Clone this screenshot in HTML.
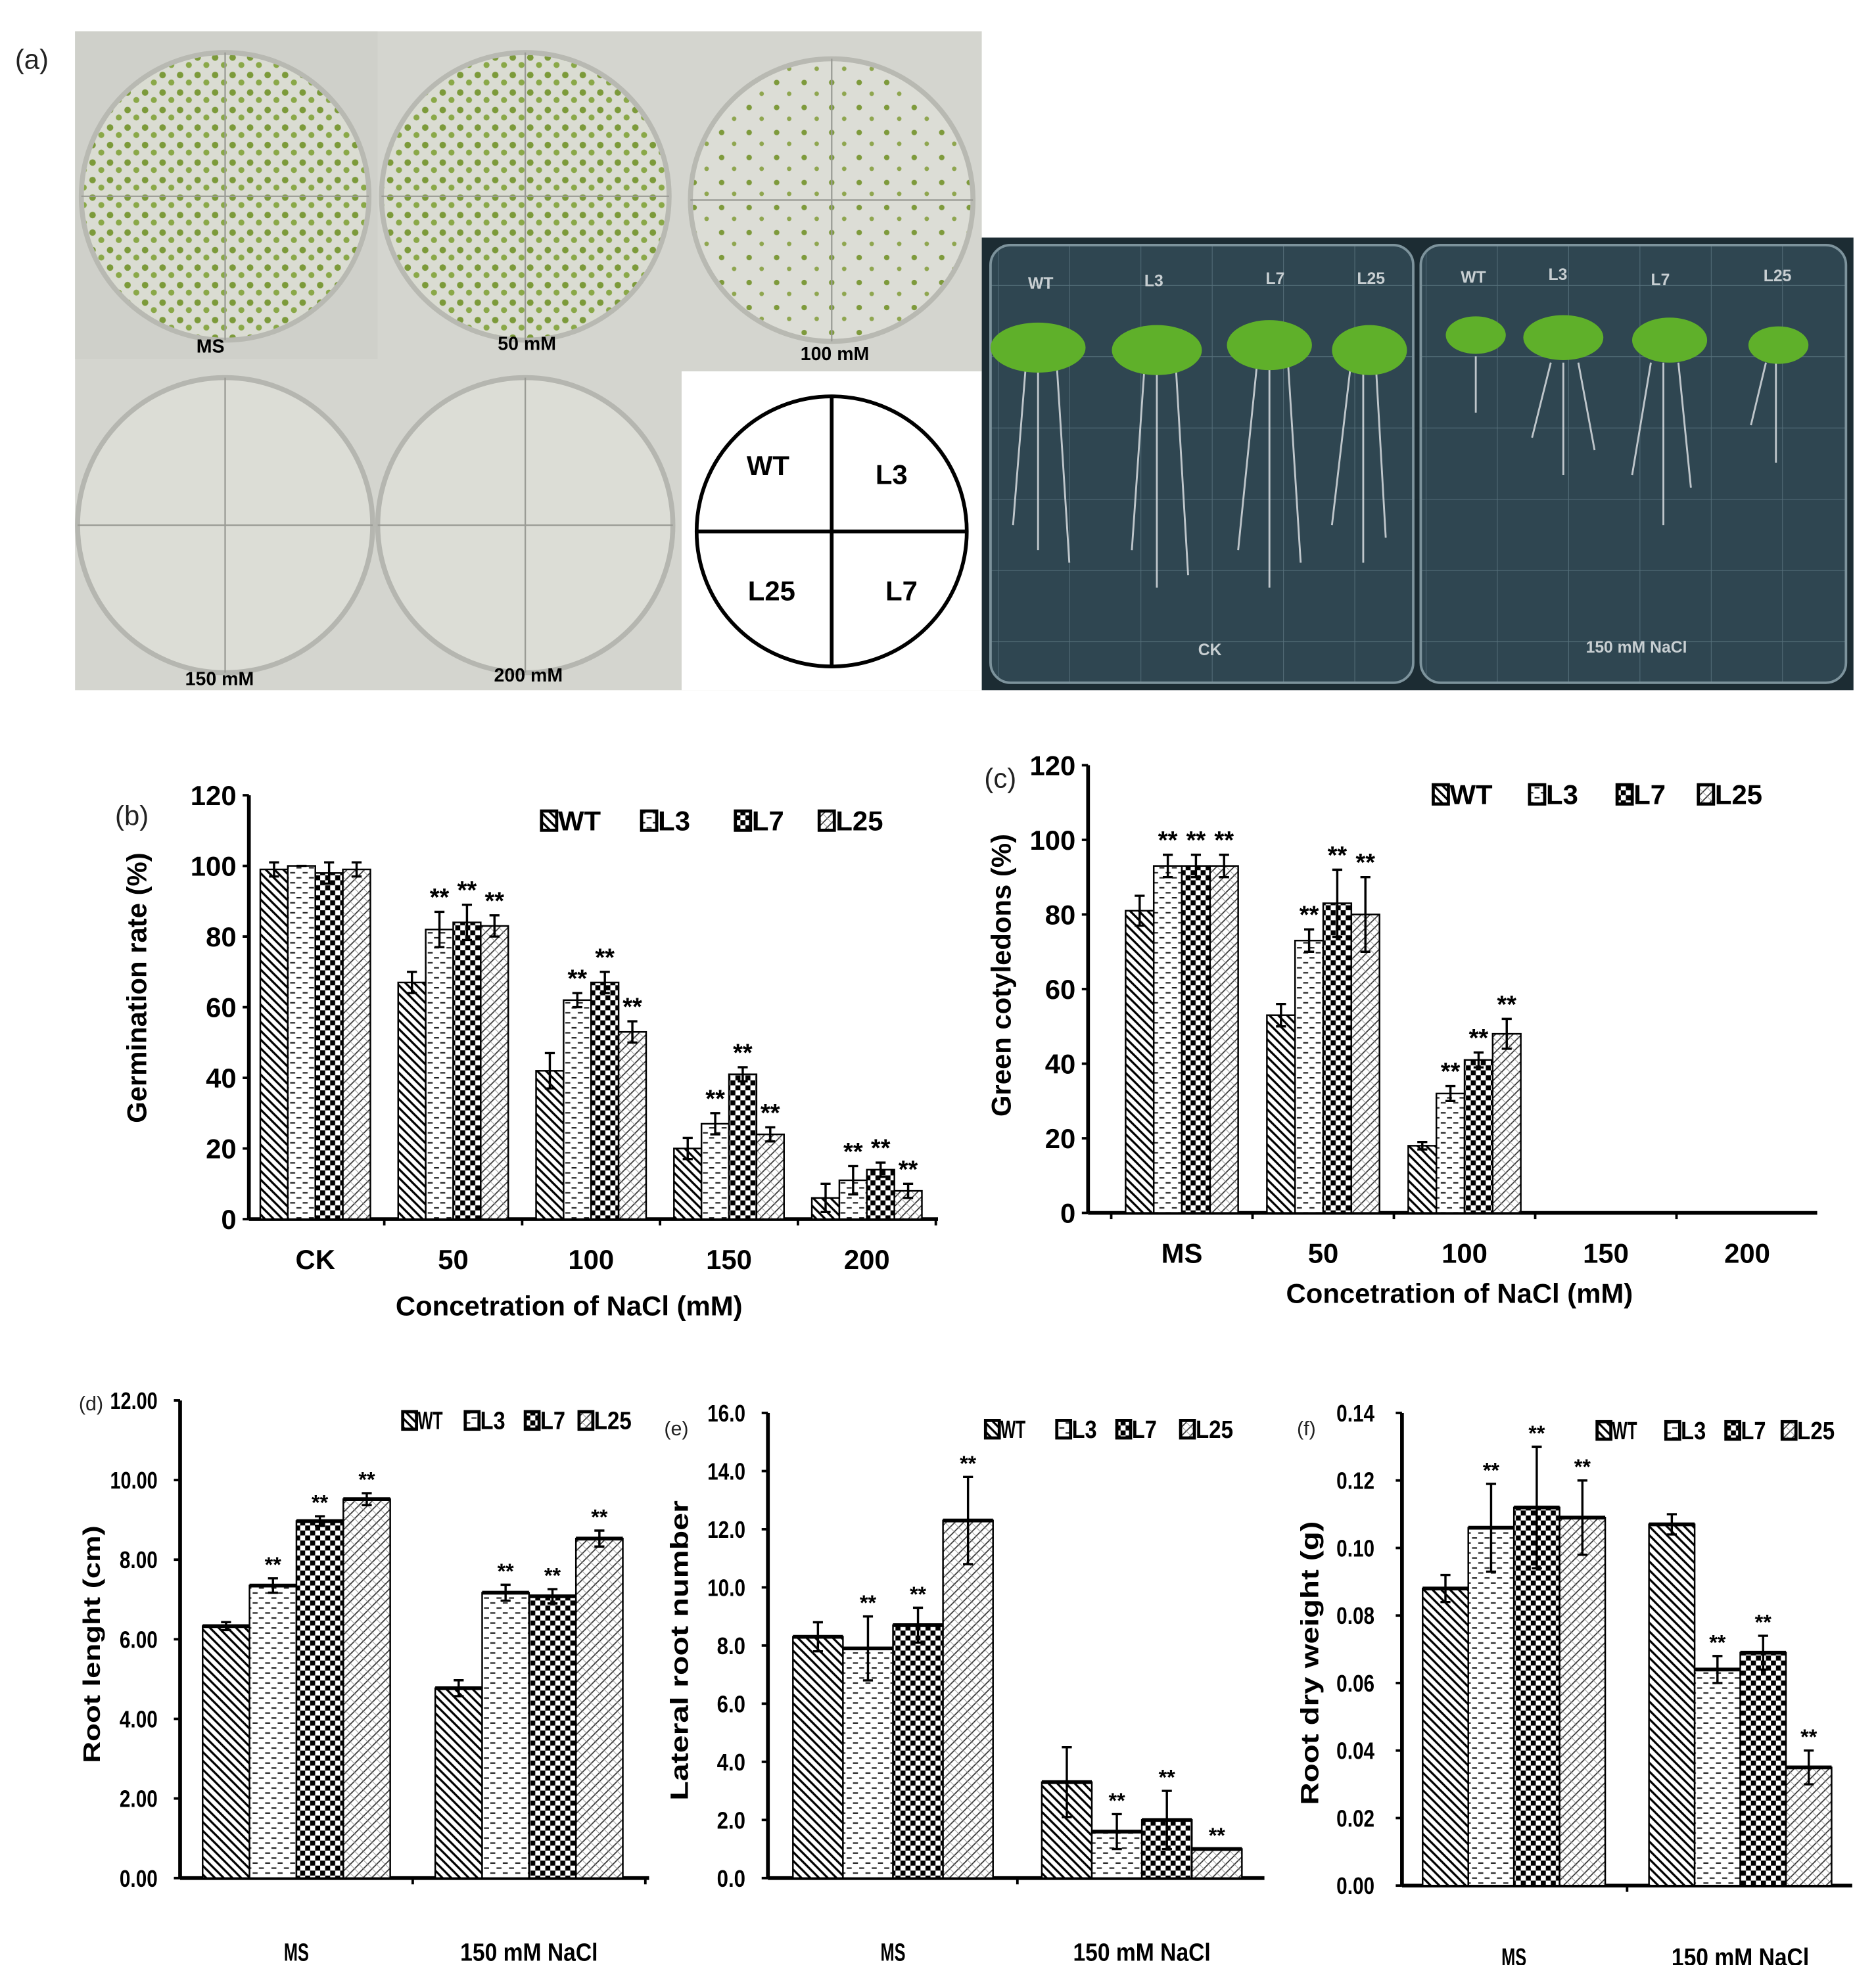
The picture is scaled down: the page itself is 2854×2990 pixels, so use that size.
<!DOCTYPE html>
<html><head><meta charset="utf-8"><style>
html,body{margin:0;padding:0;background:#fff;}
svg{display:block;}
text{font-family:"Liberation Sans",Arial,sans-serif;}
.t{font-weight:bold;fill:#000;}
.n{font-family:"Liberation Sans Narrow","Liberation Sans",sans-serif;font-weight:bold;}
</style></head><body>
<svg id="fig" width="2854" height="2990" viewBox="0 0 1500 1571.5" xmlns="http://www.w3.org/2000/svg">
<defs>
<pattern id="pWT" width="7" height="7" patternUnits="userSpaceOnUse"><rect width="7" height="7" fill="#fff"/><path d="M-1,-1 L8,8 M-1,6 L1,8 M6,-1 L8,1" stroke="#000" stroke-width="1.7"/></pattern>
<pattern id="pL3" width="10" height="8" patternUnits="userSpaceOnUse"><rect width="10" height="8" fill="#fff"/><path d="M2,2 H6 M7,6 H10 M0,6 H1" stroke="#222" stroke-width="1.2"/></pattern>
<pattern id="pL7" width="8" height="8" patternUnits="userSpaceOnUse"><rect width="8" height="8" fill="#fff"/><rect width="4" height="4" fill="#000"/><rect x="4" y="4" width="4" height="4" fill="#000"/></pattern>
<pattern id="pL25" width="7" height="7" patternUnits="userSpaceOnUse"><rect width="7" height="7" fill="#fff"/><path d="M-1,8 L8,-1 M-1,1 L1,-1 M6,8 L8,6" stroke="#333" stroke-width="0.9"/><path d="M0,0 L7,7" stroke="#999" stroke-width="0.5"/></pattern>
<pattern id="seedDense" width="14" height="14" patternUnits="userSpaceOnUse"><rect width="14" height="14" fill="#dadcd2"/><circle cx="4" cy="4" r="2.6" fill="#7c9a3a"/><circle cx="11" cy="10" r="2.4" fill="#8aa848"/></pattern>
<pattern id="seedSparse" width="22" height="20" patternUnits="userSpaceOnUse"><rect width="22" height="20" fill="#dcddd6"/><circle cx="5" cy="6" r="2.2" fill="#7e9a3c"/><circle cx="15" cy="15" r="1.8" fill="#8fa650"/></pattern>
<pattern id="grid" width="57" height="57" patternUnits="userSpaceOnUse"><rect width="57" height="57" fill="#2f4651"/><path d="M0,0 H57 M0,0 V57" stroke="#56707b" stroke-width="1"/></pattern>
</defs>

<!-- panel a -->
<g>
<text x="12" y="55" font-size="22" fill="#222">(a)</text>
<rect x="60" y="25" width="725" height="527" fill="#d4d5cf"/>
<rect x="60" y="25" width="242" height="262" fill="#cfd0ca"/>
<circle cx="180" cy="157" r="115" fill="url(#seedDense)" stroke="#b8b9b2" stroke-width="4"/>
<circle cx="420" cy="157" r="115" fill="url(#seedDense)" stroke="#b8b9b2" stroke-width="4"/>
<circle cx="665" cy="160" r="113" fill="url(#seedSparse)" stroke="#b8b9b2" stroke-width="4"/>
<circle cx="180" cy="420" r="118" fill="#dcddd6" stroke="#b5b6b0" stroke-width="4"/>
<circle cx="420" cy="420" r="118" fill="#dcddd6" stroke="#b5b6b0" stroke-width="4"/>
<path d="M65,157 H295 M180,42 V272 M305,157 H535 M420,42 V272 M552,160 H778 M665,47 V273 M62,420 H298 M180,302 V538 M302,420 H538 M420,302 V538" stroke="#9a9b95" stroke-width="1.2"/>
<g class="t" font-size="15">
<text x="157" y="282" font-family="Liberation Serif,serif">MS</text>
<text x="398" y="280" font-family="Liberation Serif,serif">50 mM</text>
<text x="640" y="288" font-family="Liberation Serif,serif">100 mM</text>
<text x="148" y="548" font-family="Liberation Serif,serif">150 mM</text>
<text x="395" y="545" font-family="Liberation Serif,serif">200 mM</text>
</g>
<rect x="545" y="297" width="240" height="255" fill="#fff"/>
<g>
<circle cx="665" cy="425" r="108" fill="none" stroke="#000" stroke-width="3"/>
<path d="M557,425 H773 M665,317 V533" stroke="#000" stroke-width="3"/>
<g font-size="22" font-weight="bold">
<text x="597" y="380" font-family="Liberation Serif,serif">WT</text>
<text x="700" y="387" font-family="Liberation Serif,serif">L3</text>
<text x="598" y="480" font-family="Liberation Serif,serif">L25</text>
<text x="708" y="480" font-family="Liberation Serif,serif">L7</text>
</g></g>
<rect x="785" y="190" width="697" height="362" fill="#1c2c33"/>
<rect x="792" y="196" width="338" height="350" rx="16" fill="url(#grid)" stroke="#7d939c" stroke-width="2"/>
<rect x="1136" y="196" width="340" height="350" rx="16" fill="url(#grid)" stroke="#7d939c" stroke-width="2"/>
<g stroke="#d8dde0" stroke-width="1.5" fill="none" opacity="0.85">
<path d="M830,290 V440 M820,295 L810,420 M845,292 L855,450 M925,295 V470 M915,295 L905,440 M940,290 L950,460 M1015,290 V470 M1005,292 L990,440 M1030,292 L1040,450 M1090,292 V450 M1080,292 L1065,420 M1100,290 L1108,430"/>
<path d="M1180,285 V330 M1250,290 V380 M1240,290 L1225,350 M1262,290 L1275,360 M1330,290 V420 M1320,290 L1305,380 M1342,290 L1352,390 M1420,290 V370 M1412,290 L1400,340"/>
</g>
<g fill="#5fb02a">
<ellipse cx="830" cy="278" rx="38" ry="20"/><ellipse cx="925" cy="280" rx="36" ry="20"/><ellipse cx="1015" cy="276" rx="34" ry="20"/><ellipse cx="1095" cy="280" rx="30" ry="20"/>
<ellipse cx="1180" cy="268" rx="24" ry="15"/><ellipse cx="1250" cy="270" rx="32" ry="18"/><ellipse cx="1335" cy="272" rx="30" ry="18"/><ellipse cx="1422" cy="276" rx="24" ry="15"/>
</g>
<g font-size="13" fill="#c8cfd2" font-weight="bold">
<text x="822" y="231" font-family="Liberation Serif,serif">WT</text><text x="915" y="229" font-family="Liberation Serif,serif">L3</text><text x="1012" y="227" font-family="Liberation Serif,serif">L7</text><text x="1085" y="227" font-family="Liberation Serif,serif">L25</text>
<text x="1168" y="226" font-family="Liberation Serif,serif">WT</text><text x="1238" y="224" font-family="Liberation Serif,serif">L3</text><text x="1320" y="228" font-family="Liberation Serif,serif">L7</text><text x="1410" y="225" font-family="Liberation Serif,serif">L25</text>
<text x="958" y="524" font-family="Liberation Serif,serif">CK</text><text x="1268" y="522" font-family="Liberation Serif,serif">150 mM NaCl</text>
</g>
</g>
<g id="charts"></g>
</svg>
<script>
// ---- chart b data ----
const bCategories = ["CK","50","100","150","200"];
const bWT  = [99, 67, 42, 20, 6];
const bL3  = [100, 82, 62, 27, 11];
const bL7  = [98, 84, 67, 41, 14];
const bL25 = [99, 83, 53, 24, 8];
const bErrWT  = [2, 3, 5, 3, 4];
const bErrL3  = [0, 5, 2, 3, 4];
const bErrL7  = [3, 5, 3, 2, 2];
const bErrL25 = [2, 3, 3, 2, 2];
const bTicks = ["0","20","40","60","80","100","120"];
// ---- chart c data ----
const cCategories = ["MS","50","100","150","200"];
const cWT  = [81, 53, 18, 0, 0];
const cL3  = [93, 73, 32, 0, 0];
const cL7  = [93, 83, 41, 0, 0];
const cL25 = [93, 80, 48, 0, 0];
const cErrWT  = [4, 3, 1, 0, 0];
const cErrL3  = [3, 3, 2, 0, 0];
const cErrL7  = [3, 9, 2, 0, 0];
const cErrL25 = [3, 10, 4, 0, 0];
const cTicks = ["0","20","40","60","80","100","120"];
// ---- chart d data ----
const dCategories = ["MS","150 mM NaCl"];
const dWT  = [6.33, 4.77];
const dL3  = [7.35, 7.17];
const dL7  = [8.97, 7.08];
const dL25 = [9.52, 8.53];
const dErrWT  = [0.1, 0.2];
const dErrL3  = [0.18, 0.2];
const dErrL7  = [0.12, 0.18];
const dErrL25 = [0.15, 0.2];
const dTicks = ["0.00","2.00","4.00","6.00","8.00","10.00","12.00"];
// ---- chart e data ----
const eCategories = ["MS","150 mM NaCl"];
const eWT  = [8.3, 3.3];
const eL3  = [7.9, 1.6];
const eL7  = [8.7, 2.0];
const eL25 = [12.3, 1.0];
const eErrWT  = [0.5, 1.2];
const eErrL3  = [1.1, 0.6];
const eErrL7  = [0.6, 1.0];
const eErrL25 = [1.5, 0];
const eTicks = ["0.0","2.0","4.0","6.0","8.0","10.0","12.0","14.0","16.0"];
// ---- chart f data ----
const fCategories = ["MS","150 mM NaCl"];
const fWT  = [0.088, 0.107];
const fL3  = [0.106, 0.064];
const fL7  = [0.112, 0.069];
const fL25 = [0.109, 0.035];
const fErrWT  = [0.004, 0.003];
const fErrL3  = [0.013, 0.004];
const fErrL7  = [0.018, 0.005];
const fErrL25 = [0.011, 0.005];
const fTicks = ["0.00","0.02","0.04","0.06","0.08","0.10","0.12","0.14"];
const seriesNames = ["WT","L3","L7","L25"];

const NS = "http://www.w3.org/2000/svg";
const root = document.getElementById("charts");
function mk(tag, attrs, parent) {
  const e = document.createElementNS(NS, tag);
  for (const k in attrs) e.setAttribute(k, attrs[k]);
  (parent || root).appendChild(e);
  return e;
}
function txt(s, attrs, parent, len) {
  const e = mk("text", attrs, parent);
  e.textContent = s;
  if (len) { e.setAttribute("textLength", len); e.setAttribute("lengthAdjust", "spacingAndGlyphs"); }
  return e;
}

function chart(o) {
  const g = mk("g", {});
  
  
  const yMax = o.yMax;
  const ys = v => o.y0 - (v / yMax) * (o.y0 - o.yTop);
  const gw = o.spacing;
  const cx = i => o.xStart + (i + 0.5) * gw;
  const cls = o.narrow ? "n" : "t";
  const nl = (s, per) => o.narrow ? s.length * per : 0;
  const ya = mk("line", {x1:o.x0, y1:o.yTop, x2:o.x0, y2:o.y0, stroke:"#000", "stroke-width":3}, g);
  
  
  const xa = mk("line", {x1:o.x0, y1:o.y0, x2:o.xEnd, y2:o.y0, stroke:"#000", "stroke-width":3}, g);
  
  
  o.ticks.forEach((t, i) => {
    const v = i * yMax / (o.ticks.length - 1);
    const y = ys(v);
    mk("line", {x1:o.x0 - 5, y1:y, x2:o.x0, y2:y, stroke:"#000", "stroke-width":2}, g);
    const tl = txt(t, {x:o.x0 - (o.narrow ? o.tickGap : 10) - nl(t, 7.6), y:y + o.tickFs * 0.36, "font-size":o.tickFs, class:cls, fill:"#000", "text-anchor":o.narrow ? "start" : "end"}, g, nl(t, 7.6));
    if (!o.narrow) tl.setAttribute("x", o.x0 - 10);
    
    
  });
  for (let i = 0; i <= o.cats.length; i++) {
    const x = o.xStart + i * gw;
    if (x > o.x0 + 2 && x < o.xEnd) mk("line", {x1:x, y1:o.y0, x2:x, y2:o.y0 + 5, stroke:"#000", "stroke-width":2}, g);
  }
  o.cats.forEach((c, i) => {
    const L = nl(c, 10);
    const l = txt(c, {x:cx(i) - L / 2, y:o.catY, "font-size":o.catFs, class:cls, "text-anchor":o.narrow ? "start" : "middle"}, g, L);
    if (!o.narrow) l.setAttribute("x", cx(i));
    
    
  });
  const bw = o.barW;
  o.series.forEach((vals, s) => {
    vals.forEach((v, i) => {
      if (v <= 0) return;
      const x = cx(i) - 2 * bw + s * bw;
      const y = ys(v);
      const r = mk("rect", {x:x, y:y, width:bw, height:o.y0 - y, fill:"url(#p" + seriesNames[s] + ")", stroke:"#000", "stroke-width":1.3}, g);
      
      
      if (o.narrow) mk("line", {x1:x, y1:y, x2:x + bw, y2:y, stroke:"#000", "stroke-width":3}, g);
      const e = o.errs[s][i];
      const et = ys(v + e), eb = ys(v - e);
      const eg = mk("path", {d:`M${x+bw/2},${et} V${eb} M${x+bw/2-4},${et} H${x+bw/2+4} M${x+bw/2-4},${eb} H${x+bw/2+4}`, stroke:"#000", "stroke-width":1.8, fill:"none"}, g);
      
      
      if (o.stars[s][i]) {
        const st = txt("**", {x:x + bw/2, y:et - 5, "text-anchor":"middle", "font-size":o.starFs, class:cls}, g);
        
        
      }
    });
  });
  o.legX.forEach((lx, s) => {
    const sq = mk("rect", {x:lx, y:o.legY - o.legFs * 0.7, width:o.legFs * 0.55, height:o.legFs * 0.7, fill:"url(#p" + seriesNames[s] + ")", stroke:"#000", "stroke-width":2.5}, g);
    
    
    const nm = seriesNames[s];
    const lt = txt(nm, {x:lx + o.legFs * 0.6, y:o.legY, "font-size":o.legFs, class:cls}, g, nl(nm, 10));
    
    
  });
  const yt = txt(o.ytitle, {x:0, y:0, transform:`translate(${o.ytX},${o.ytY}) rotate(-90)`, "text-anchor":"middle", "font-size":o.titleFs, class:"t"}, g, o.ytLen || 0);
  
  
  if (o.xtitle) {
    const xt = txt(o.xtitle, {x:o.xtX, y:o.xtY, "text-anchor":"middle", "font-size":o.titleFs, class:cls}, g);
    
    
  }
  const pl = txt(o.label, {x:o.labelX, y:o.labelY, "font-size":o.labelFs, fill:"#222"}, g);
  
  
}

chart({name:"chart-b-germination", x0:199, xEnd:750, y0:975, yTop:636, yMax:120, xStart:197, spacing:110.25, barW:22,
  cats:bCategories, series:[bWT,bL3,bL7,bL25], errs:[bErrWT,bErrL3,bErrL7,bErrL25],
  stars:[[0,0,0,0,0],[0,1,1,1,1],[0,1,1,1,1],[0,1,1,1,1]], ticks:bTicks, tickFs:22, catFs:22, catY:1015, starFs:20,
  legX:[433,513,588,655], legY:664, legFs:22, ytitle:"Germination rate (%)", ytX:117, ytY:790, titleFs:22,
  xtitle:"Concetration of NaCl (mM)", xtX:455, xtY:1052, label:"(b)", labelX:92, labelY:660, labelFs:22});
chart({name:"chart-c-green-cotyledons", x0:870, xEnd:1453, y0:970, yTop:612, yMax:120, xStart:888.5, spacing:113, barW:22.5,
  cats:cCategories, series:[cWT,cL3,cL7,cL25], errs:[cErrWT,cErrL3,cErrL7,cErrL25],
  stars:[[0,0,0,0,0],[1,1,1,0,0],[1,1,1,0,0],[1,1,1,0,0]], ticks:cTicks, tickFs:22, catFs:22, catY:1010, starFs:20,
  legX:[1146,1223,1293,1358], legY:643, legFs:22, ytitle:"Green cotyledons (%)", ytX:808, ytY:780, titleFs:22,
  xtitle:"Concetration of NaCl (mM)", xtX:1167, xtY:1042, label:"(c)", labelX:787, labelY:630, labelFs:22});
chart({name:"chart-d-root-length", narrow:true, tickGap:18, x0:144, xEnd:519, y0:1502, yTop:1120, yMax:12, xStart:144, spacing:186, barW:37.5,
  cats:dCategories, series:[dWT,dL3,dL7,dL25], errs:[dErrWT,dErrL3,dErrL7,dErrL25],
  stars:[[0,0],[1,1],[1,1],[1,1]], ticks:dTicks, tickFs:19, catFs:20, catY:1568, starFs:17,
  legX:[322,372,420,463], legY:1143, legFs:20, ytitle:"Root lenght (cm)", ytX:80, ytY:1315, ytLen:190, titleFs:19,
  label:"(d)", labelX:63, labelY:1128, labelFs:16});
chart({name:"chart-e-lateral-roots", narrow:true, tickGap:18, x0:614, xEnd:1011, y0:1502, yTop:1130, yMax:16, xStart:614.5, spacing:199, barW:40,
  cats:eCategories, series:[eWT,eL3,eL7,eL25], errs:[eErrWT,eErrL3,eErrL7,eErrL25],
  stars:[[0,0],[1,1],[1,1],[1,1]], ticks:eTicks, tickFs:19, catFs:20, catY:1568, starFs:17,
  legX:[788,845,893,944], legY:1150, legFs:20, ytitle:"Lateral root number", ytX:550, ytY:1320, ytLen:240, titleFs:20,
  label:"(e)", labelX:531, labelY:1148, labelFs:16});
chart({name:"chart-f-root-dry-weight", narrow:true, tickGap:22, x0:1121, xEnd:1481, y0:1508, yTop:1130, yMax:0.14, xStart:1120, spacing:181, barW:36.5,
  cats:fCategories, series:[fWT,fL3,fL7,fL25], errs:[fErrWT,fErrL3,fErrL7,fErrL25],
  stars:[[0,0],[1,1],[1,1],[1,1]], ticks:fTicks, tickFs:19, catFs:20, catY:1572, starFs:17,
  legX:[1277,1332,1380,1425], legY:1151, legFs:20, ytitle:"Root dry weight (g)", ytX:1054, ytY:1330, ytLen:227, titleFs:20,
  label:"(f)", labelX:1037, labelY:1148, labelFs:16});
</script>
</body></html>
